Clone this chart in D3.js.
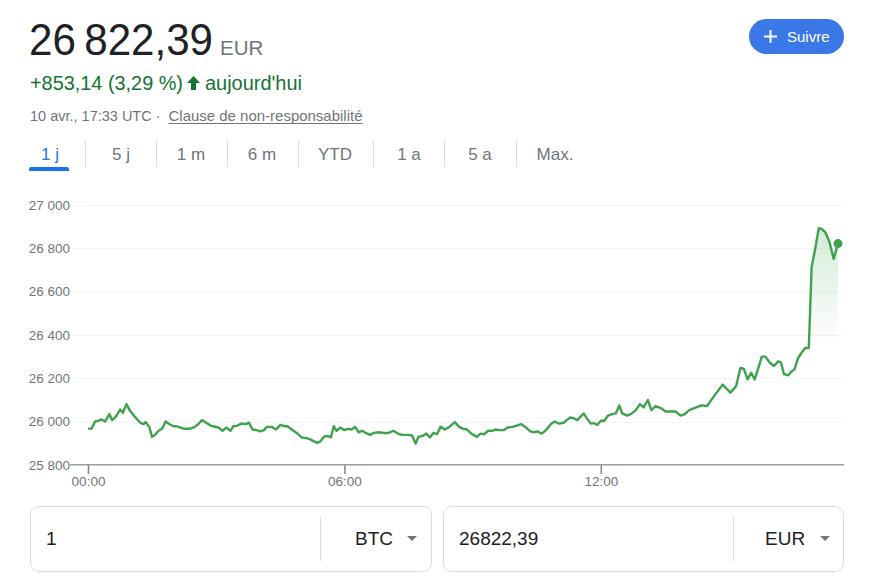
<!DOCTYPE html>
<html><head><meta charset="utf-8">
<script src="https://cdn.jsdelivr.net/npm/d3@7"></script>
<style>
html,body{margin:0;padding:0;background:#fff;}
svg{display:block;font-family:"Liberation Sans",Arial,sans-serif;}
</style></head>
<body>
<svg id="c" width="877" height="579"></svg>
<script>
// ---- data ----
const minutes = [0,5,10,14,19,24,30,34,39,45,49,54,59,66,73,78,81,86,90,94,99,104,109,114,120,125,129,136,143,150,155,160,166,172,176,183,189,194,200,204,210,215,221,226,231,237,242,247,251,258,264,270,276,280,286,293,300,307,312,318,322,326,332,338,341,345,349,354,360,365,370,375,380,385,390,396,401,408,415,422,429,435,441,449,455,460,464,471,475,480,485,490,495,501,507,515,521,527,532,538,546,551,556,562,568,572,578,584,589,596,602,608,615,621,626,631,637,643,650,655,661,668,672,677,682,687,696,701,706,711,715,720,725,730,736,741,746,750,757,762,769,775,780,786,791,797,804,811,818,825,832,838,844,854,861,869,879,891,902,910,916,921,926,931,936,940,946,951,957,963,969,973,977,983,988,992,997,1002,1007,1012,1016,1021,1026,1030,1035,1041,1047,1051,1053];
const prices = [25968,25968,26001,26004,26010,26001,26035,26007,26022,26056,26041,26081,26050,26022,25996,25989,25998,25976,25930,25938,25958,25967,26001,25989,25979,25979,25973,25967,25967,25976,25989,26007,25995,25982,25979,25973,25958,25973,25958,25979,25982,25991,25989,25995,25964,25961,25955,25961,25976,25976,25964,25985,25979,25979,25964,25948,25927,25924,25918,25908,25902,25908,25933,25933,25927,25979,25958,25973,25961,25967,25964,25976,25951,25958,25948,25939,25948,25951,25948,25948,25958,25945,25939,25939,25936,25899,25930,25936,25945,25927,25948,25942,25976,25964,25975,25998,25976,25967,25964,25945,25930,25945,25942,25958,25958,25964,25961,25961,25973,25976,25982,25989,25973,25955,25951,25955,25945,25961,25989,26001,25991,25995,26007,26019,26016,26007,26038,26012,25991,25993,25985,26004,26004,26028,26035,26038,26075,26038,26028,26035,26053,26081,26066,26100,26053,26072,26063,26047,26047,26047,26028,26035,26053,26066,26075,26072,26118,26171,26134,26165,26248,26243,26195,26226,26195,26236,26300,26300,26273,26257,26278,26273,26220,26214,26232,26242,26294,26319,26340,26340,26714,26798,26893,26890,26875,26829,26751,26801,26822];
const yTicks = [25800,26000,26200,26400,26600,26800,27000];
const xTickMinutes = [0,360,720];
const xTickLabels = ["00:00","06:00","12:00"];
const tabs = ["1 j","5 j","1 m","6 m","YTD","1 a","5 a","Max."];

const price = "26\u202F822,39", currency = "EUR";
const change = "+853,14 (3,29 %)", changeWhen = "aujourd'hui";
const stamp = "10 avr., 17:33 UTC · ", disclaimer = "Clause de non-responsabilité";

// ---- drawing ----
const svg = d3.select("#c");
const grey = "#70757a", green = "#137333", lineGreen = "#3ea34c", blue = "#3b78e7";

// header
svg.append("text").attr("x",29).attr("y",55).attr("font-size",44).attr("fill","#202124")
  .attr("textLength",184).attr("lengthAdjust","spacingAndGlyphs").text(price);
svg.append("text").attr("x",220).attr("y",55).attr("font-size",20.5).attr("fill",grey).text(currency);
svg.append("text").attr("x",30).attr("y",90).attr("font-size",20.5).attr("fill",green)
  .attr("textLength",153).attr("lengthAdjust","spacingAndGlyphs").text(change);
// arrow
svg.append("path").attr("d","M193.5,76 L200,83 L196,83 L196,90 L191,90 L191,83 L187,83 Z").attr("fill",green);
svg.append("text").attr("x",205).attr("y",90).attr("font-size",20.5).attr("fill",green)
  .attr("textLength",97).attr("lengthAdjust","spacingAndGlyphs").text(changeWhen);
svg.append("text").attr("x",30).attr("y",121).attr("font-size",14.5).attr("fill",grey).text(stamp);
svg.append("text").attr("x",168.5).attr("y",121).attr("font-size",14.5).attr("fill",grey)
  .attr("textLength",194).attr("lengthAdjust","spacingAndGlyphs").text(disclaimer);
svg.append("line").attr("x1",168.5).attr("x2",362.5).attr("y1",123.5).attr("y2",123.5).attr("stroke",grey).attr("stroke-width",1);

// follow button
svg.append("rect").attr("x",749).attr("y",19).attr("width",95).attr("height",35).attr("rx",17.5).attr("fill",blue);
svg.append("path").attr("d","M764,36.5 H777 M770.5,30 V43").attr("stroke","#fff").attr("stroke-width",2);
svg.append("text").attr("x",787).attr("y",42).attr("font-size",15).attr("fill","#fff").attr("font-weight",500).text("Suivre");

// tabs
const tabCenters = [50,121,191,262,335,409,480,555];
const seps = [85,156,227,298,373,444,516];
svg.selectAll(".tab").data(tabs).join("text").attr("class","tab")
  .attr("x",(d,i)=>tabCenters[i]).attr("y",160).attr("text-anchor","middle").attr("font-size",17)
  .attr("fill",(d,i)=>i===0?"#1a73e8":grey).text(d=>d);
svg.selectAll(".sep").data(seps).join("line").attr("class","sep")
  .attr("x1",d=>d+0.5).attr("x2",d=>d+0.5).attr("y1",140).attr("y2",167).attr("stroke","#dadce0");
svg.append("path").attr("d","M29,171 V169 Q29,167 31,167 H67 Q69,167 69,169 V171 Z").attr("fill","#1a73e8");

// chart scales
const x = d3.scaleLinear().domain([0,1053]).range([88,838]);
const y = d3.scaleLinear().domain([25800,27000]).range([465,205]);

// gridlines
svg.append("g").selectAll("line").data(yTicks.slice(1)).join("line")
  .attr("x1",72).attr("x2",843).attr("y1",d=>Math.round(y(d))+0.5).attr("y2",d=>Math.round(y(d))+0.5)
  .attr("stroke","#f1f3f4").attr("stroke-width",1);

// y axis labels
svg.append("g").selectAll("text").data(yTicks).join("text")
  .attr("x",70).attr("y",d=>y(d)+4.5).attr("text-anchor","end").attr("font-size",13.5).attr("fill",grey)
  .text(d=>d3.format(",")(d).replace(","," "));

// x axis
const xAxis = d3.axisBottom(x).tickValues(xTickMinutes).tickFormat((d,i)=>xTickLabels[i]).tickSize(9).tickSizeOuter(0);
const gx = svg.append("g").attr("transform","translate(0,465)").call(xAxis);
gx.select(".domain").remove();
gx.selectAll(".tick line").attr("stroke","#80868b").attr("stroke-width",1.5);
gx.selectAll(".tick text").attr("fill",grey).attr("font-size",13.5).attr("font-family","Liberation Sans, Arial, sans-serif").attr("dy","0.95em").attr("y",8);
svg.append("line").attr("x1",70).attr("x2",844).attr("y1",464.75).attr("y2",464.75).attr("stroke","#9aa0a6").attr("stroke-width",1.5);

// gradient area
const defs = svg.append("defs");
const grad = defs.append("linearGradient").attr("id","g").attr("gradientUnits","userSpaceOnUse")
  .attr("x1",0).attr("x2",0).attr("y1",y(26900)).attr("y2",y(26340));
grad.append("stop").attr("offset",0).attr("stop-color",lineGreen).attr("stop-opacity",0.22);
grad.append("stop").attr("offset",1).attr("stop-color",lineGreen).attr("stop-opacity",0);
const data = minutes.map((m,i)=>({m, v:prices[i]}));
svg.append("path").datum(data).attr("fill","url(#g)")
  .attr("d",d3.area().x(d=>x(d.m)).y0(465).y1(d=>y(d.v)));
svg.append("path").datum(data).attr("fill","none").attr("stroke",lineGreen).attr("stroke-width",2.4)
  .attr("stroke-linejoin","round").attr("d",d3.line().x(d=>x(d.m)).y(d=>y(d.v)));
const last = data[data.length-1];
svg.append("circle").attr("cx",x(last.m)).attr("cy",y(last.v)).attr("r",4.5).attr("fill",lineGreen);

// converter boxes
const boxes = [
  {x:30,w:401,val:"1",cur:"BTC",sep:320,cx:355,tri:412},
  {x:443,w:400,val:"26822,39",cur:"EUR",sep:733,cx:765,tri:825}
];
boxes.forEach(b=>{
  svg.append("rect").attr("x",b.x+0.5).attr("y",506.5).attr("width",b.w).attr("height",65).attr("rx",8)
    .attr("fill","#fff").attr("stroke","#dadce0");
  svg.append("line").attr("x1",b.sep+0.5).attr("x2",b.sep+0.5).attr("y1",517).attr("y2",561).attr("stroke","#dadce0");
  svg.append("text").attr("x",b.x+16).attr("y",545).attr("font-size",19).attr("fill","#202124").text(b.val);
  svg.append("text").attr("x",b.cx).attr("y",545).attr("font-size",19).attr("fill","#202124").text(b.cur);
  svg.append("path").attr("d",`M${b.tri-5},536 L${b.tri+5},536 L${b.tri},541 Z`).attr("fill","#757575");
});
</script>
</body></html>
